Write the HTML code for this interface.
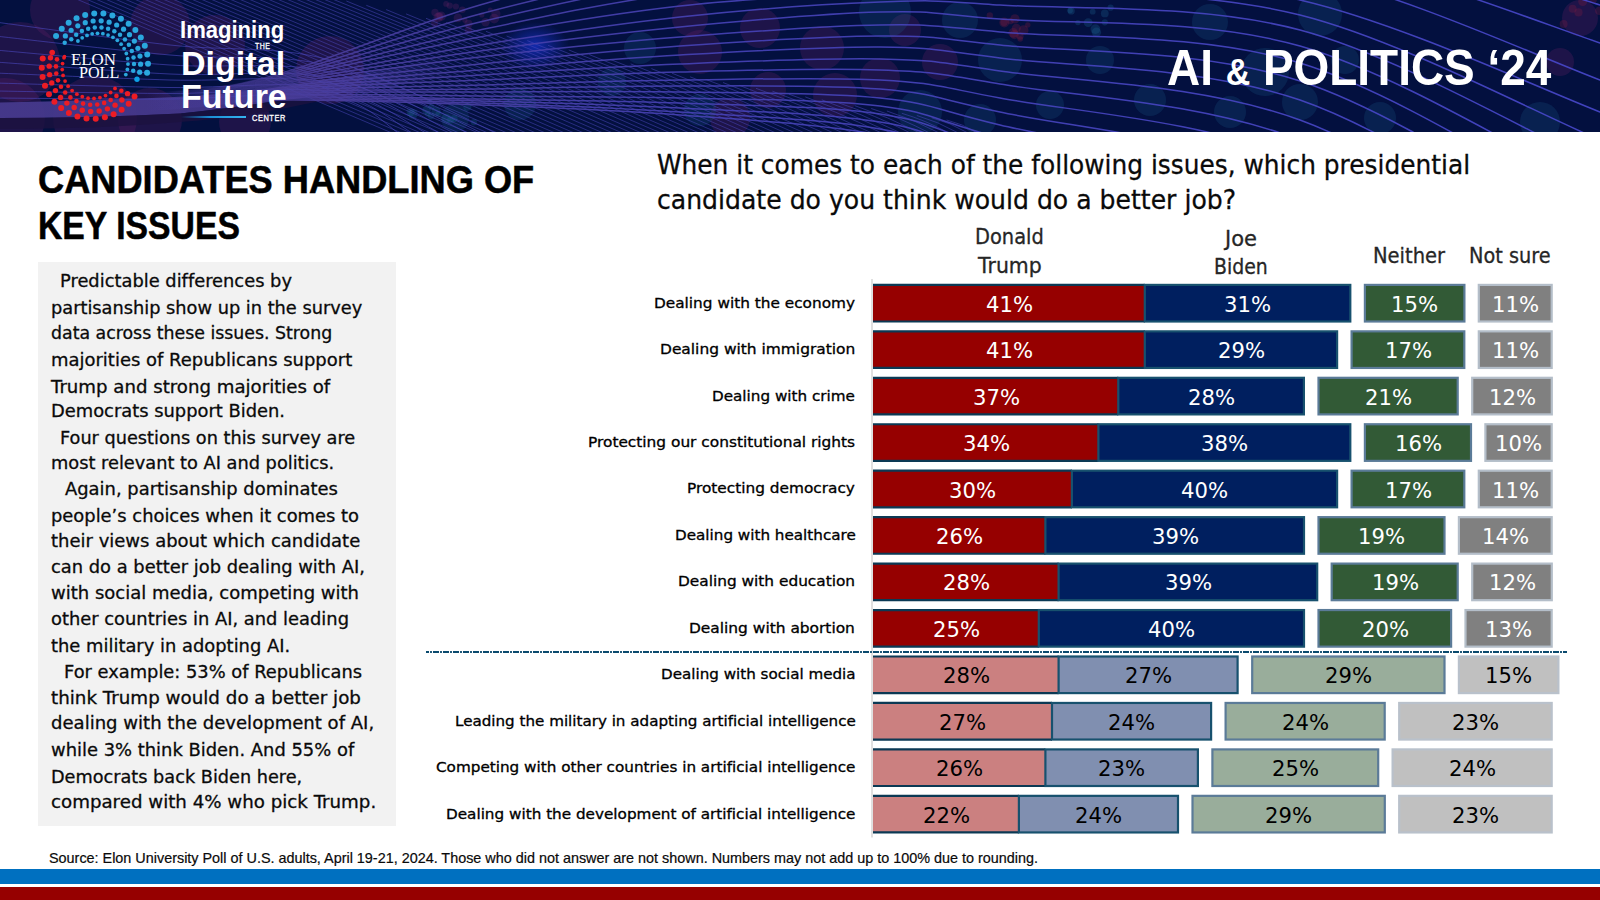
<!DOCTYPE html>
<html lang="en"><head><meta charset="utf-8"><title>AI &amp; Politics ‘24 – Candidates handling of key issues</title>
<style>
html,body{margin:0;padding:0;background:#fff}
body{width:1600px;height:900px;position:relative;overflow:hidden;font-family:"Liberation Sans","DejaVu Sans",sans-serif}
.t{position:absolute;white-space:pre;line-height:normal;transform-origin:0 0;display:block}
header{position:absolute;left:0;top:0;width:1600px;height:132px;background:#03103f;overflow:hidden}
.hdr-art{position:absolute;left:0;top:0}
.logo{position:absolute;left:30px;top:0}
.rule{position:absolute;left:181px;top:116.4px;width:65px;height:1.8px;background:linear-gradient(90deg,rgba(27,117,188,0) 0%,#1b8fd6 45%,#35b4ef 100%)}
.panel{position:absolute;left:38px;top:262px;width:358px;height:564px;background:#f2f2f2}
.chart{position:absolute;left:0;top:0}
.stripe-b{position:absolute;left:0;top:869px;width:1600px;height:15px;background:#0070c0}
.stripe-r{position:absolute;left:0;top:887px;width:1600px;height:13px;background:#960000}
</style></head><body>
<header>
<svg class="hdr-art" width="1600" height="132" viewBox="0 0 1600 132" aria-hidden="true">
<defs><linearGradient id="rib" gradientUnits="userSpaceOnUse" x1="0" y1="0" x2="460" y2="0"><stop offset="0" stop-color="#46398c" stop-opacity="0.95"/><stop offset="0.62" stop-color="#44388c" stop-opacity="0.9"/><stop offset="1" stop-color="#40389a" stop-opacity="0"/></linearGradient><radialGradient id="glow"><stop offset="0" stop-color="#1530c8" stop-opacity="0.8"/><stop offset="1" stop-color="#1530c8" stop-opacity="0"/></radialGradient><linearGradient id="lg" gradientUnits="userSpaceOnUse" x1="0" y1="0" x2="1600" y2="0"><stop offset="0.09" stop-color="#4a3d9c" stop-opacity="0"/><stop offset="0.2" stop-color="#4a3d9c" stop-opacity="1"/><stop offset="0.45" stop-color="#4642b8"/><stop offset="1" stop-color="#4848cc"/></linearGradient></defs>
<rect width="1600" height="132" fill="#03103f"/>
<circle cx="20" cy="62" r="40" fill="#6d2468" fill-opacity="0.26"/>
<circle cx="95" cy="118" r="42" fill="#6d2468" fill-opacity="0.26"/>
<circle cx="215" cy="45" r="30" fill="#6d2468" fill-opacity="0.26"/>
<circle cx="330" cy="70" r="34" fill="#6d2468" fill-opacity="0.26"/>
<circle cx="245" cy="122" r="26" fill="#6d2468" fill-opacity="0.26"/>
<circle cx="160" cy="25" r="30" fill="#6d2468" fill-opacity="0.26"/>
<circle cx="700" cy="52" r="22" fill="#6d2468" fill-opacity="0.26"/>
<circle cx="760" cy="28" r="20" fill="#6d2468" fill-opacity="0.26"/>
<circle cx="822" cy="48" r="22" fill="#6d2468" fill-opacity="0.26"/>
<circle cx="835" cy="95" r="22" fill="#6d2468" fill-opacity="0.26"/>
<circle cx="880" cy="78" r="20" fill="#6d2468" fill-opacity="0.26"/>
<circle cx="768" cy="90" r="18" fill="#6d2468" fill-opacity="0.26"/>
<circle cx="940" cy="62" r="18" fill="#6d2468" fill-opacity="0.26"/>
<circle cx="905" cy="30" r="16" fill="#6d2468" fill-opacity="0.26"/>
<circle cx="690" cy="18" r="18" fill="#6d2468" fill-opacity="0.26"/>
<circle cx="730" cy="118" r="20" fill="#6d2468" fill-opacity="0.26"/>
<circle cx="1580" cy="18" r="18" fill="#6d2468" fill-opacity="0.26"/>
<circle cx="1560" cy="62" r="14" fill="#6d2468" fill-opacity="0.26"/>
<circle cx="5" cy="118" r="40" fill="#6d2468" fill-opacity="0.26"/>
<circle cx="150" cy="120" r="32" fill="#6d2468" fill-opacity="0.26"/>
<circle cx="60" cy="10" r="30" fill="#6d2468" fill-opacity="0.26"/>
<circle cx="885" cy="12" r="26" fill="#1c6796" fill-opacity="0.2"/>
<circle cx="920" cy="112" r="22" fill="#1c6796" fill-opacity="0.2"/>
<circle cx="700" cy="110" r="16" fill="#1c6796" fill-opacity="0.2"/>
<circle cx="640" cy="48" r="16" fill="#1c6796" fill-opacity="0.2"/>
<circle cx="612" cy="82" r="14" fill="#1c6796" fill-opacity="0.2"/>
<circle cx="1320" cy="14" r="22" fill="#1c6796" fill-opacity="0.2"/>
<circle cx="1265" cy="72" r="24" fill="#1c6796" fill-opacity="0.2"/>
<circle cx="1300" cy="102" r="18" fill="#1c6796" fill-opacity="0.2"/>
<circle cx="1230" cy="112" r="16" fill="#1c6796" fill-opacity="0.2"/>
<circle cx="1150" cy="100" r="16" fill="#1c6796" fill-opacity="0.2"/>
<circle cx="1345" cy="60" r="14" fill="#1c6796" fill-opacity="0.2"/>
<circle cx="1210" cy="22" r="18" fill="#1c6796" fill-opacity="0.2"/>
<circle cx="980" cy="120" r="16" fill="#1c6796" fill-opacity="0.2"/>
<circle cx="1000" cy="60" r="22" fill="#1c6796" fill-opacity="0.2"/>
<circle cx="960" cy="20" r="18" fill="#1c6796" fill-opacity="0.2"/>
<circle cx="1380" cy="118" r="16" fill="#1c6796" fill-opacity="0.2"/>
<circle cx="520" cy="104" r="16" fill="#1c6796" fill-opacity="0.2"/>
<circle cx="455" cy="118" r="14" fill="#1c6796" fill-opacity="0.2"/>
<circle cx="1540" cy="122" r="20" fill="#1c6796" fill-opacity="0.2"/>
<circle cx="1100" cy="60" r="14" fill="#1c6796" fill-opacity="0.2"/>
<circle cx="1050" cy="105" r="14" fill="#1c6796" fill-opacity="0.2"/>
<circle cx="438.2" cy="17.4" r="4.8" fill="#6d2468" fill-opacity="0.28"/>
<circle cx="439.3" cy="16.3" r="4.0" fill="#6d2468" fill-opacity="0.28"/>
<circle cx="468.5" cy="23.8" r="4.1" fill="#6d2468" fill-opacity="0.28"/>
<circle cx="462.3" cy="9.7" r="3.3" fill="#6d2468" fill-opacity="0.28"/>
<circle cx="485.5" cy="22.2" r="4.2" fill="#6d2468" fill-opacity="0.28"/>
<circle cx="494.2" cy="18.6" r="4.9" fill="#6d2468" fill-opacity="0.28"/>
<circle cx="446.1" cy="3.9" r="2.9" fill="#6d2468" fill-opacity="0.28"/>
<circle cx="481.8" cy="15.0" r="2.6" fill="#6d2468" fill-opacity="0.28"/>
<circle cx="464.9" cy="20.2" r="2.6" fill="#6d2468" fill-opacity="0.28"/>
<circle cx="441.3" cy="16.2" r="4.6" fill="#6d2468" fill-opacity="0.28"/>
<circle cx="435.0" cy="12.5" r="3.7" fill="#6d2468" fill-opacity="0.28"/>
<circle cx="449.7" cy="5.6" r="3.2" fill="#6d2468" fill-opacity="0.28"/>
<circle cx="495.9" cy="13.7" r="4.6" fill="#6d2468" fill-opacity="0.28"/>
<circle cx="455.9" cy="6.5" r="3.1" fill="#6d2468" fill-opacity="0.28"/>
<circle cx="458.0" cy="17.9" r="4.4" fill="#6d2468" fill-opacity="0.28"/>
<circle cx="434.6" cy="23.2" r="3.5" fill="#6d2468" fill-opacity="0.28"/>
<circle cx="490.3" cy="9.9" r="2.5" fill="#6d2468" fill-opacity="0.28"/>
<circle cx="468.4" cy="30.1" r="3.7" fill="#6d2468" fill-opacity="0.28"/>
<circle cx="1027.8" cy="24.9" r="2.7" fill="#8a1c40" fill-opacity="0.28"/>
<circle cx="989.8" cy="15.4" r="3.2" fill="#8a1c40" fill-opacity="0.28"/>
<circle cx="1023.6" cy="30.2" r="4.9" fill="#8a1c40" fill-opacity="0.28"/>
<circle cx="1010.5" cy="21.2" r="3.1" fill="#8a1c40" fill-opacity="0.28"/>
<circle cx="1016.3" cy="28.3" r="4.5" fill="#8a1c40" fill-opacity="0.28"/>
<circle cx="1020.0" cy="36.2" r="3.6" fill="#8a1c40" fill-opacity="0.28"/>
<circle cx="1020.2" cy="39.0" r="2.8" fill="#8a1c40" fill-opacity="0.28"/>
<circle cx="1004.1" cy="22.3" r="3.6" fill="#8a1c40" fill-opacity="0.28"/>
<circle cx="1013.3" cy="32.9" r="4.9" fill="#8a1c40" fill-opacity="0.28"/>
<circle cx="1014.9" cy="18.9" r="4.7" fill="#8a1c40" fill-opacity="0.28"/>
<circle cx="1014.4" cy="34.6" r="4.6" fill="#8a1c40" fill-opacity="0.28"/>
<circle cx="1004.3" cy="22.5" r="5.0" fill="#8a1c40" fill-opacity="0.28"/>
<circle cx="1088.2" cy="22.7" r="4.4" fill="#1c6796" fill-opacity="0.28"/>
<circle cx="1077.9" cy="22.6" r="2.7" fill="#1c6796" fill-opacity="0.28"/>
<circle cx="1104.8" cy="22.3" r="3.1" fill="#1c6796" fill-opacity="0.28"/>
<circle cx="1071.2" cy="10.9" r="3.6" fill="#1c6796" fill-opacity="0.28"/>
<circle cx="1104.8" cy="13.4" r="3.9" fill="#1c6796" fill-opacity="0.28"/>
<circle cx="1092.7" cy="11.7" r="2.9" fill="#1c6796" fill-opacity="0.28"/>
<circle cx="1110.6" cy="7.7" r="3.1" fill="#1c6796" fill-opacity="0.28"/>
<circle cx="1095.4" cy="29.1" r="4.9" fill="#1c6796" fill-opacity="0.28"/>
<circle cx="1096.4" cy="32.3" r="4.7" fill="#1c6796" fill-opacity="0.28"/>
<circle cx="1070.1" cy="10.4" r="2.8" fill="#1c6796" fill-opacity="0.28"/>
<circle cx="473.9" cy="122.2" r="3.1" fill="#1c6796" fill-opacity="0.28"/>
<circle cx="436.1" cy="111.4" r="4.6" fill="#1c6796" fill-opacity="0.28"/>
<circle cx="427.8" cy="113.8" r="2.9" fill="#1c6796" fill-opacity="0.28"/>
<circle cx="438.5" cy="114.0" r="3.1" fill="#1c6796" fill-opacity="0.28"/>
<circle cx="410.6" cy="112.3" r="4.0" fill="#1c6796" fill-opacity="0.28"/>
<circle cx="433.7" cy="134.5" r="3.0" fill="#1c6796" fill-opacity="0.28"/>
<circle cx="454.0" cy="118.7" r="3.6" fill="#1c6796" fill-opacity="0.28"/>
<circle cx="450.5" cy="120.1" r="3.4" fill="#1c6796" fill-opacity="0.28"/>
<circle cx="431.1" cy="115.8" r="3.4" fill="#1c6796" fill-opacity="0.28"/>
<circle cx="467.4" cy="106.8" r="4.1" fill="#1c6796" fill-opacity="0.28"/>
<circle cx="431.5" cy="107.0" r="2.9" fill="#1c6796" fill-opacity="0.28"/>
<circle cx="446.4" cy="118.7" r="4.8" fill="#1c6796" fill-opacity="0.28"/>
<circle cx="429.3" cy="101.4" r="2.6" fill="#1c6796" fill-opacity="0.28"/>
<circle cx="426.5" cy="110.3" r="4.3" fill="#1c6796" fill-opacity="0.28"/>
<circle cx="424.9" cy="134.3" r="2.7" fill="#1c6796" fill-opacity="0.28"/>
<circle cx="413.0" cy="114.0" r="4.8" fill="#1c6796" fill-opacity="0.28"/>
<circle cx="1582.7" cy="1.5" r="4.5" fill="#8a1c40" fill-opacity="0.28"/>
<circle cx="1599.2" cy="10.8" r="4.2" fill="#8a1c40" fill-opacity="0.28"/>
<circle cx="1611.0" cy="5.6" r="3.5" fill="#8a1c40" fill-opacity="0.28"/>
<circle cx="1593.0" cy="-0.4" r="3.9" fill="#8a1c40" fill-opacity="0.28"/>
<circle cx="1572.6" cy="8.8" r="4.0" fill="#8a1c40" fill-opacity="0.28"/>
<circle cx="1578.5" cy="12.4" r="4.1" fill="#8a1c40" fill-opacity="0.28"/>
<circle cx="1617.4" cy="14.3" r="4.3" fill="#8a1c40" fill-opacity="0.28"/>
<circle cx="1563.6" cy="24.1" r="4.0" fill="#8a1c40" fill-opacity="0.28"/>
<ellipse cx="535" cy="46" rx="34" ry="24" fill="url(#glow)"/>
<path d="M0,102.4 C60,101.5 120,99.8 180,96.8 C220,94.5 255,90.5 290,85.5 C320,81 345,78 440,58 L460,74 C400,86 330,95 290,99.5 C250,104.5 215,110 180,113.6 C120,117 60,118 0,118 Z" fill="url(#rib)"/>
<path d="M0,118 C60,118 120,117 180,113.6 C215,110 250,104.5 290,99.5 L320,101 C270,112 225,119 180,122 C120,127 60,129 0,129 Z" fill="#1b1140" fill-opacity="0.8"/>
<path d="M-5.0,98.0 C24.2,98.2 114.2,99.3 170.0,99.0 C225.8,98.7 291.7,90.2 330.0,96.0 C368.3,101.8 388.3,127.7 400.0,134.0" fill="none" stroke="#4a46bc" stroke-opacity="0.7" stroke-width="0.9"/>
<path d="M-5.0,91.0 C24.2,91.4 114.2,93.3 170.0,93.5 C225.8,93.7 289.3,85.2 330.0,92.0 C370.7,98.8 400.0,127.0 414.0,134.0" fill="none" stroke="#4a46bc" stroke-opacity="0.7" stroke-width="0.9"/>
<path d="M-5.0,83.0 C24.2,83.8 114.2,86.7 170.0,87.5 C225.8,88.3 287.0,80.2 330.0,88.0 C373.0,95.8 411.7,126.3 428.0,134.0" fill="none" stroke="#4a46bc" stroke-opacity="0.7" stroke-width="0.9"/>
<path d="M-5.0,73.0 C24.2,74.2 114.2,78.3 170.0,80.0 C225.8,81.7 284.7,74.0 330.0,83.0 C375.3,92.0 423.3,125.5 442.0,134.0" fill="none" stroke="#4a46bc" stroke-opacity="0.7" stroke-width="0.9"/>
<path d="M-5.0,62.0 C24.2,64.0 114.2,71.3 170.0,74.0 C225.8,76.7 282.3,68.0 330.0,78.0 C377.7,88.0 435.0,124.7 456.0,134.0" fill="none" stroke="#4a46bc" stroke-opacity="0.7" stroke-width="0.9"/>
<path d="M-5.0,50.0 C24.2,52.5 114.2,61.3 170.0,65.0 C225.8,68.7 280.0,60.5 330.0,72.0 C380.0,83.5 446.7,123.7 470.0,134.0" fill="none" stroke="#4a46bc" stroke-opacity="0.7" stroke-width="0.9"/>
<path d="M-5.0,36.0 C24.2,39.2 114.2,50.0 170.0,55.0 C225.8,60.0 277.7,52.8 330.0,66.0 C382.3,79.2 458.3,122.7 484.0,134.0" fill="none" stroke="#4a46bc" stroke-opacity="0.7" stroke-width="0.9"/>
<path d="M-5.0,22.0 C24.2,25.8 114.2,38.7 170.0,45.0 C225.8,51.3 275.3,45.2 330.0,60.0 C384.7,74.8 470.0,121.7 498.0,134.0" fill="none" stroke="#4a46bc" stroke-opacity="0.7" stroke-width="0.9"/>
<path d="M-308.4,-161.2 Q41.8,-17.1 392.0,133" fill="none" stroke="#4a46bc" stroke-opacity="0.62" stroke-width="0.85"/>
<path d="M-285.0,-155.4 Q58.3,-14.2 401.6,133" fill="none" stroke="#4a46bc" stroke-opacity="0.62" stroke-width="0.85"/>
<path d="M-261.6,-149.6 Q74.8,-11.3 411.2,133" fill="none" stroke="#4a46bc" stroke-opacity="0.62" stroke-width="0.85"/>
<path d="M-238.2,-143.8 Q91.3,-8.4 420.8,133" fill="none" stroke="#4a46bc" stroke-opacity="0.62" stroke-width="0.85"/>
<path d="M-214.8,-138.0 Q107.8,-5.5 430.4,133" fill="none" stroke="#4a46bc" stroke-opacity="0.62" stroke-width="0.85"/>
<path d="M-191.4,-132.2 Q124.3,-2.6 440.0,133" fill="none" stroke="#4a46bc" stroke-opacity="0.62" stroke-width="0.85"/>
<path d="M-168.0,-126.4 Q140.8,0.3 449.6,133" fill="none" stroke="#4a46bc" stroke-opacity="0.62" stroke-width="0.85"/>
<path d="M-144.5,-120.6 Q157.3,3.2 459.2,133" fill="none" stroke="#4a46bc" stroke-opacity="0.62" stroke-width="0.85"/>
<path d="M-121.1,-114.8 Q173.8,6.1 468.8,133" fill="none" stroke="#4a46bc" stroke-opacity="0.62" stroke-width="0.85"/>
<path d="M-97.7,-109.0 Q190.3,9.0 478.4,133" fill="none" stroke="#4a46bc" stroke-opacity="0.62" stroke-width="0.85"/>
<path d="M-74.3,-103.2 Q206.9,11.9 488.0,133" fill="none" stroke="#4a46bc" stroke-opacity="0.62" stroke-width="0.85"/>
<path d="M-50.9,-97.4 Q223.4,14.8 497.6,133" fill="none" stroke="#4a46bc" stroke-opacity="0.62" stroke-width="0.85"/>
<path d="M-27.5,-91.6 Q239.9,17.7 507.2,133" fill="none" stroke="#4a46bc" stroke-opacity="0.62" stroke-width="0.85"/>
<path d="M-4.0,-85.8 Q256.4,20.6 516.8,133" fill="none" stroke="#4a46bc" stroke-opacity="0.62" stroke-width="0.85"/>
<path d="M19.4,-79.9 Q272.9,23.5 526.4,133" fill="none" stroke="#4a46bc" stroke-opacity="0.62" stroke-width="0.85"/>
<path d="M42.8,-74.1 Q289.4,26.4 536.0,133" fill="none" stroke="#4a46bc" stroke-opacity="0.62" stroke-width="0.85"/>
<path d="M66.2,-68.3 Q305.9,29.3 545.6,133" fill="none" stroke="#4a46bc" stroke-opacity="0.62" stroke-width="0.85"/>
<path d="M89.6,-62.5 Q322.4,32.2 555.2,133" fill="none" stroke="#4a46bc" stroke-opacity="0.62" stroke-width="0.85"/>
<path d="M113.0,-56.7 Q338.9,35.1 564.8,133" fill="none" stroke="#4a46bc" stroke-opacity="0.62" stroke-width="0.85"/>
<path d="M136.5,-50.9 Q355.4,38.0 574.4,133" fill="none" stroke="#4a46bc" stroke-opacity="0.62" stroke-width="0.85"/>
<path d="M159.9,-45.1 Q371.9,40.9 584.0,133" fill="none" stroke="#4a46bc" stroke-opacity="0.62" stroke-width="0.85"/>
<path d="M183.3,-39.3 Q388.4,43.8 593.6,133" fill="none" stroke="#4a46bc" stroke-opacity="0.62" stroke-width="0.85"/>
<path d="M206.7,-33.5 Q405.0,46.7 603.2,133" fill="none" stroke="#4a46bc" stroke-opacity="0.62" stroke-width="0.85"/>
<path d="M230.1,-27.7 Q421.5,49.6 612.8,133" fill="none" stroke="#4a46bc" stroke-opacity="0.62" stroke-width="0.85"/>
<path d="M253.5,-21.9 Q438.0,52.5 622.4,133" fill="none" stroke="#4a46bc" stroke-opacity="0.62" stroke-width="0.85"/>
<path d="M277.0,-16.1 Q454.5,55.4 632.0,133" fill="none" stroke="#4a46bc" stroke-opacity="0.62" stroke-width="0.85"/>
<path d="M300.4,-10.3 Q471.0,58.3 641.6,133" fill="none" stroke="#4a46bc" stroke-opacity="0.62" stroke-width="0.85"/>
<path d="M323.8,-4.5 Q487.5,61.2 651.2,133" fill="none" stroke="#4a46bc" stroke-opacity="0.62" stroke-width="0.85"/>
<path d="M346.4,1.0 Q503.6,64.0 660.8,133" fill="none" stroke="#4a46bc" stroke-opacity="0.62" stroke-width="0.85"/>
<path d="M366.3,5.3 Q518.4,66.1 670.4,133" fill="none" stroke="#4a46bc" stroke-opacity="0.62" stroke-width="0.85"/>
<path d="M386.2,9.6 Q533.1,68.3 680.0,133" fill="none" stroke="#4a46bc" stroke-opacity="0.62" stroke-width="0.85"/>
<path d="M406.1,13.9 Q547.9,70.5 689.6,133" fill="none" stroke="#4a46bc" stroke-opacity="0.62" stroke-width="0.85"/>
<path d="M426.0,18.3 Q562.6,72.6 699.2,133" fill="none" stroke="#4a46bc" stroke-opacity="0.62" stroke-width="0.85"/>
<path d="M445.9,22.6 Q577.4,74.8 708.8,133" fill="none" stroke="#4a46bc" stroke-opacity="0.62" stroke-width="0.85"/>
<path d="M465.8,26.9 Q592.1,77.0 718.4,133" fill="none" stroke="#4a46bc" stroke-opacity="0.62" stroke-width="0.85"/>
<path d="M485.9,31.3 Q607.0,79.2 728.0,133" fill="none" stroke="#4a46bc" stroke-opacity="0.62" stroke-width="0.85"/>
<path d="M506.6,36.0 Q622.1,81.5 737.6,133" fill="none" stroke="#4a46bc" stroke-opacity="0.62" stroke-width="0.85"/>
<path d="M527.3,40.6 Q637.3,83.8 747.2,133" fill="none" stroke="#4a46bc" stroke-opacity="0.62" stroke-width="0.85"/>
<path d="M548.0,45.3 Q652.4,86.1 756.8,133" fill="none" stroke="#4a46bc" stroke-opacity="0.62" stroke-width="0.85"/>
<path d="M568.7,49.9 Q667.5,88.5 766.4,133" fill="none" stroke="#4a46bc" stroke-opacity="0.62" stroke-width="0.85"/>
<path d="M589.3,54.6 Q682.7,90.8 776.0,133" fill="none" stroke="#4a46bc" stroke-opacity="0.62" stroke-width="0.85"/>
<path d="M610.0,59.3 Q697.8,93.1 785.6,133" fill="none" stroke="#4a46bc" stroke-opacity="0.62" stroke-width="0.85"/>
<path d="M630.7,63.9 Q712.9,95.5 795.2,133" fill="none" stroke="#4a46bc" stroke-opacity="0.62" stroke-width="0.85"/>
<path d="M651.4,68.6 Q728.1,97.8 804.8,133" fill="none" stroke="#4a46bc" stroke-opacity="0.62" stroke-width="0.85"/>
<path d="M672.0,73.2 Q743.2,100.1 814.4,133" fill="none" stroke="#4a46bc" stroke-opacity="0.62" stroke-width="0.85"/>
<path d="M690.1,76.8 Q757.1,101.9 824.0,133" fill="none" stroke="#4a46bc" stroke-opacity="0.62" stroke-width="0.85"/>
<path d="M706.6,79.7 Q770.1,103.3 833.6,133" fill="none" stroke="#4a46bc" stroke-opacity="0.62" stroke-width="0.85"/>
<path d="M723.0,82.5 Q783.1,104.8 843.2,133" fill="none" stroke="#4a46bc" stroke-opacity="0.62" stroke-width="0.85"/>
<path d="M739.5,85.4 Q796.1,106.2 852.8,133" fill="none" stroke="#4a46bc" stroke-opacity="0.62" stroke-width="0.85"/>
<path d="M756.0,88.3 Q809.2,107.6 862.4,133" fill="none" stroke="#4a46bc" stroke-opacity="0.62" stroke-width="0.85"/>
<path d="M772.4,91.2 Q822.2,109.1 872.0,133" fill="none" stroke="#4a46bc" stroke-opacity="0.62" stroke-width="0.85"/>
<path d="M788.9,94.1 Q835.2,110.5 881.6,133" fill="none" stroke="#4a46bc" stroke-opacity="0.62" stroke-width="0.85"/>
<path d="M805.3,96.9 Q848.3,112.0 891.2,133" fill="none" stroke="#4a46bc" stroke-opacity="0.62" stroke-width="0.85"/>
<path d="M821.8,99.8 Q861.3,113.4 900.8,133" fill="none" stroke="#4a46bc" stroke-opacity="0.62" stroke-width="0.85"/>
<path d="M838.2,102.7 Q874.3,114.8 910.4,133" fill="none" stroke="#4a46bc" stroke-opacity="0.62" stroke-width="0.85"/>
<path d="M854.7,105.6 Q887.3,116.3 920.0,133" fill="none" stroke="#4a46bc" stroke-opacity="0.62" stroke-width="0.85"/>
<path d="M871.2,108.5 Q900.4,117.7 929.6,133" fill="none" stroke="#4a46bc" stroke-opacity="0.62" stroke-width="0.85"/>
<path d="M886.9,111.0 Q913.1,119.0 939.2,133" fill="none" stroke="#4a46bc" stroke-opacity="0.62" stroke-width="0.85"/>
<path d="M901.8,113.3 Q925.3,120.1 948.8,133" fill="none" stroke="#4a46bc" stroke-opacity="0.62" stroke-width="0.85"/>
<path d="M916.8,115.5 Q937.6,121.3 958.4,133" fill="none" stroke="#4a46bc" stroke-opacity="0.62" stroke-width="0.85"/>
<path d="M931.7,117.8 Q949.9,122.4 968.0,133" fill="none" stroke="#4a46bc" stroke-opacity="0.62" stroke-width="0.85"/>
<path d="M946.6,120.0 Q962.1,123.5 977.6,133" fill="none" stroke="#4a46bc" stroke-opacity="0.62" stroke-width="0.85"/>
<path d="M0.0,99.0 C28.3,97.8 123.3,96.2 170.0,92.0 C216.7,87.8 228.3,88.1 280.0,73.6 C331.7,59.1 413.3,24.3 480.0,5.0 C546.7,-14.3 613.3,-30.2 680.0,-42.0 C746.7,-53.8 826.7,-60.0 880.0,-66.0 C933.3,-72.0 930.0,-76.5 1000.0,-78.0 C1070.0,-79.5 1200.0,-88.8 1300.0,-75.0 C1400.0,-61.2 1533.3,-15.8 1600.0,5.0 C1666.7,25.8 1683.3,42.5 1700.0,50.0" fill="none" stroke="url(#lg)" stroke-opacity="0.9" stroke-width="1.5"/>
<path d="M0.0,100.0 C28.3,98.8 123.3,97.1 170.0,92.9 C216.7,88.7 228.3,88.2 280.0,75.0 C331.7,61.9 413.3,31.5 480.0,14.0 C546.7,-3.5 613.3,-19.0 680.0,-30.0 C746.7,-41.0 826.7,-46.7 880.0,-52.0 C933.3,-57.3 930.0,-62.3 1000.0,-62.0 C1070.0,-61.7 1200.0,-67.5 1300.0,-50.0 C1400.0,-32.5 1533.3,20.0 1600.0,43.0 C1666.7,66.0 1683.3,80.5 1700.0,88.0" fill="none" stroke="url(#lg)" stroke-opacity="0.9" stroke-width="1.5"/>
<path d="M0.0,101.0 C28.3,99.8 123.3,97.9 170.0,93.8 C216.7,89.7 228.3,88.4 280.0,76.4 C331.7,64.4 413.3,37.9 480.0,22.0 C546.7,6.1 613.3,-9.0 680.0,-19.0 C746.7,-29.0 826.7,-33.3 880.0,-38.0 C933.3,-42.7 930.0,-48.7 1000.0,-47.0 C1070.0,-45.3 1200.0,-49.2 1300.0,-28.0 C1400.0,-6.8 1533.3,54.5 1600.0,80.0 C1666.7,105.5 1683.3,117.5 1700.0,125.0" fill="none" stroke="url(#lg)" stroke-opacity="0.9" stroke-width="1.5"/>
<path d="M0.0,102.0 C28.3,100.8 123.3,98.7 170.0,94.7 C216.7,90.7 228.3,88.6 280.0,77.8 C331.7,67.0 413.3,44.1 480.0,30.0 C546.7,15.9 613.3,1.7 680.0,-7.0 C746.7,-15.7 826.7,-18.7 880.0,-22.0 C933.3,-25.3 930.0,-30.7 1000.0,-27.0 C1070.0,-23.3 1200.0,-23.2 1300.0,0.0 C1400.0,23.2 1533.3,85.8 1600.0,112.0 C1666.7,138.2 1683.3,149.5 1700.0,157.0" fill="none" stroke="url(#lg)" stroke-opacity="0.9" stroke-width="1.5"/>
<path d="M0.0,103.0 C28.3,101.8 123.3,99.6 170.0,95.6 C216.7,91.6 228.3,89.0 280.0,79.2 C331.7,69.4 413.3,49.2 480.0,37.0 C546.7,24.8 613.3,13.5 680.0,6.0 C746.7,-1.5 826.7,-5.2 880.0,-8.0 C933.3,-10.8 930.0,-14.8 1000.0,-11.0 C1070.0,-7.2 1200.0,-10.2 1300.0,15.0 C1400.0,40.2 1533.3,111.7 1600.0,140.0 C1666.7,168.3 1683.3,177.5 1700.0,185.0" fill="none" stroke="url(#lg)" stroke-opacity="0.9" stroke-width="1.5"/>
<path d="M0.0,104.0 C28.3,102.8 123.3,100.4 170.0,96.5 C216.7,92.6 228.3,89.2 280.0,80.6 C331.7,72.0 413.3,55.6 480.0,45.0 C546.7,34.4 613.3,24.2 680.0,17.0 C746.7,9.8 826.7,4.0 880.0,2.0 C933.3,0.0 930.0,0.3 1000.0,5.0 C1070.0,9.7 1200.0,3.3 1300.0,30.0 C1400.0,56.7 1533.3,135.0 1600.0,165.0 C1666.7,195.0 1683.3,202.5 1700.0,210.0" fill="none" stroke="url(#lg)" stroke-opacity="0.9" stroke-width="1.5"/>
<path d="M0.0,105.0 C28.3,103.7 123.3,101.2 170.0,97.4 C216.7,93.6 228.3,89.7 280.0,82.0 C331.7,74.3 413.3,60.2 480.0,51.0 C546.7,41.8 613.3,33.5 680.0,27.0 C746.7,20.5 826.7,13.3 880.0,12.0 C933.3,10.7 930.0,13.3 1000.0,19.0 C1070.0,24.7 1200.0,17.5 1300.0,46.0 C1400.0,74.5 1533.3,158.5 1600.0,190.0 C1666.7,221.5 1683.3,227.5 1700.0,235.0" fill="none" stroke="url(#lg)" stroke-opacity="0.9" stroke-width="1.5"/>
<path d="M0.0,106.0 C28.3,104.7 123.3,102.1 170.0,98.3 C216.7,94.5 228.3,90.3 280.0,83.4 C331.7,76.5 413.3,64.7 480.0,57.0 C546.7,49.3 613.3,42.3 680.0,37.0 C746.7,31.7 826.7,25.8 880.0,25.0 C933.3,24.2 930.0,25.7 1000.0,32.0 C1070.0,38.3 1200.0,32.5 1300.0,63.0 C1400.0,93.5 1533.3,182.2 1600.0,215.0 C1666.7,247.8 1683.3,252.5 1700.0,260.0" fill="none" stroke="url(#lg)" stroke-opacity="0.9" stroke-width="1.5"/>
<path d="M0.0,107.0 C28.3,105.7 123.3,102.9 170.0,99.2 C216.7,95.5 228.3,90.7 280.0,84.8 C331.7,78.9 413.3,70.5 480.0,64.0 C546.7,57.5 613.3,50.7 680.0,46.0 C746.7,41.3 826.7,36.2 880.0,36.0 C933.3,35.8 930.0,37.5 1000.0,45.0 C1070.0,52.5 1200.0,48.5 1300.0,81.0 C1400.0,113.5 1533.3,206.0 1600.0,240.0 C1666.7,274.0 1683.3,277.5 1700.0,285.0" fill="none" stroke="url(#lg)" stroke-opacity="0.9" stroke-width="1.5"/>
<path d="M0.0,108.0 C28.3,106.7 123.3,103.7 170.0,100.1 C216.7,96.5 228.3,91.2 280.0,86.2 C331.7,81.2 413.3,75.2 480.0,70.0 C546.7,64.8 613.3,58.8 680.0,55.0 C746.7,51.2 826.7,46.5 880.0,47.0 C933.3,47.5 930.0,49.2 1000.0,58.0 C1070.0,66.8 1200.0,65.5 1300.0,100.0 C1400.0,134.5 1533.3,230.0 1600.0,265.0 C1666.7,300.0 1683.3,302.5 1700.0,310.0" fill="none" stroke="url(#lg)" stroke-opacity="0.9" stroke-width="1.5"/>
<path d="M0.0,109.0 C28.3,107.7 123.3,104.6 170.0,101.0 C216.7,97.4 228.3,91.9 280.0,87.6 C331.7,83.3 413.3,78.9 480.0,75.0 C546.7,71.1 613.3,66.7 680.0,64.0 C746.7,61.3 826.7,57.8 880.0,59.0 C933.3,60.2 930.0,60.8 1000.0,71.0 C1070.0,81.2 1200.0,83.5 1300.0,120.0 C1400.0,156.5 1533.3,254.2 1600.0,290.0 C1666.7,325.8 1683.3,327.5 1700.0,335.0" fill="none" stroke="url(#lg)" stroke-opacity="0.9" stroke-width="1.5"/>
<path d="M0.0,110.0 C28.3,108.7 123.3,105.4 170.0,101.9 C216.7,98.4 228.3,92.7 280.0,89.0 C331.7,85.3 413.3,82.8 480.0,80.0 C546.7,77.2 613.3,73.7 680.0,72.0 C746.7,70.3 826.7,68.0 880.0,70.0 C933.3,72.0 930.0,72.3 1000.0,84.0 C1070.0,95.7 1200.0,101.5 1300.0,140.0 C1400.0,178.5 1533.3,278.3 1600.0,315.0 C1666.7,351.7 1683.3,352.5 1700.0,360.0" fill="none" stroke="url(#lg)" stroke-opacity="0.9" stroke-width="1.5"/>
<path d="M0.0,111.0 C28.3,109.6 123.3,106.2 170.0,102.8 C216.7,99.4 228.3,93.4 280.0,90.4 C331.7,87.4 413.3,86.7 480.0,85.0 C546.7,83.3 613.3,80.8 680.0,80.0 C746.7,79.2 826.7,77.0 880.0,80.0 C933.3,83.0 930.0,84.7 1000.0,98.0 C1070.0,111.3 1200.0,119.7 1300.0,160.0 C1400.0,200.3 1533.3,302.5 1600.0,340.0 C1666.7,377.5 1683.3,377.5 1700.0,385.0" fill="none" stroke="url(#lg)" stroke-opacity="0.9" stroke-width="1.5"/>
<path d="M0.0,112.0 C28.3,110.6 123.3,107.1 170.0,103.7 C216.7,100.3 228.3,94.2 280.0,91.8 C331.7,89.3 413.3,90.0 480.0,89.0 C546.7,88.0 613.3,86.0 680.0,86.0 C746.7,86.0 826.7,84.7 880.0,89.0 C933.3,93.3 930.0,96.8 1000.0,112.0 C1070.0,127.2 1200.0,137.8 1300.0,180.0 C1400.0,222.2 1533.3,326.7 1600.0,365.0 C1666.7,403.3 1683.3,402.5 1700.0,410.0" fill="none" stroke="url(#lg)" stroke-opacity="0.9" stroke-width="1.5"/>
<path d="M0.0,113.0 C28.3,111.6 123.3,107.9 170.0,104.6 C216.7,101.3 228.3,95.3 280.0,93.2 C331.7,91.1 413.3,92.2 480.0,92.0 C546.7,91.8 613.3,91.0 680.0,92.0 C746.7,93.0 826.7,92.5 880.0,98.0 C933.3,103.5 930.0,108.0 1000.0,125.0 C1070.0,142.0 1200.0,155.8 1300.0,200.0 C1400.0,244.2 1533.3,350.8 1600.0,390.0 C1666.7,429.2 1683.3,427.5 1700.0,435.0" fill="none" stroke="url(#lg)" stroke-opacity="0.9" stroke-width="1.5"/>
<path d="M0.0,114.0 C28.3,112.6 123.3,108.7 170.0,105.5 C216.7,102.3 228.3,96.2 280.0,94.6 C331.7,93.0 413.3,95.4 480.0,96.0 C546.7,96.6 613.3,96.3 680.0,98.0 C746.7,99.7 826.7,99.3 880.0,106.0 C933.3,112.7 930.0,119.0 1000.0,138.0 C1070.0,157.0 1200.0,173.8 1300.0,220.0 C1400.0,266.2 1533.3,375.0 1600.0,415.0 C1666.7,455.0 1683.3,452.5 1700.0,460.0" fill="none" stroke="url(#lg)" stroke-opacity="0.9" stroke-width="1.5"/>
<path d="M0.0,115.0 C28.3,113.6 123.3,109.6 170.0,106.4 C216.7,103.2 228.3,97.2 280.0,96.0 C331.7,94.8 413.3,97.8 480.0,99.0 C546.7,100.2 613.3,100.5 680.0,103.0 C746.7,105.5 826.7,106.2 880.0,114.0 C933.3,121.8 930.0,129.0 1000.0,150.0 C1070.0,171.0 1200.0,191.7 1300.0,240.0 C1400.0,288.3 1533.3,399.2 1600.0,440.0 C1666.7,480.8 1683.3,477.5 1700.0,485.0" fill="none" stroke="url(#lg)" stroke-opacity="0.9" stroke-width="1.5"/>
<path d="M0.0,116.0 C28.3,114.5 123.3,110.4 170.0,107.3 C216.7,104.2 228.3,98.4 280.0,97.4 C331.7,96.3 413.3,99.2 480.0,101.0 C546.7,102.8 613.3,104.5 680.0,108.0 C746.7,111.5 826.7,113.2 880.0,122.0 C933.3,130.8 930.0,138.0 1000.0,161.0 C1070.0,184.0 1200.0,209.3 1300.0,260.0 C1400.0,310.7 1533.3,423.3 1600.0,465.0 C1666.7,506.7 1683.3,502.5 1700.0,510.0" fill="none" stroke="url(#lg)" stroke-opacity="0.9" stroke-width="1.5"/>
<path d="M0.0,117.0 C28.3,115.5 123.3,111.2 170.0,108.2 C216.7,105.2 228.3,99.7 280.0,98.8 C331.7,97.9 413.3,100.8 480.0,103.0 C546.7,105.2 613.3,107.7 680.0,112.0 C746.7,116.3 826.7,119.3 880.0,129.0 C933.3,138.7 930.0,144.8 1000.0,170.0 C1070.0,195.2 1200.0,226.7 1300.0,280.0 C1400.0,333.3 1533.3,447.5 1600.0,490.0 C1666.7,532.5 1683.3,527.5 1700.0,535.0" fill="none" stroke="url(#lg)" stroke-opacity="0.9" stroke-width="1.5"/>
<path d="M0.0,118.0 C28.3,116.5 123.3,112.1 170.0,109.1 C216.7,106.1 228.3,100.9 280.0,100.2 C331.7,99.5 413.3,102.5 480.0,105.0 C546.7,107.5 613.3,110.0 680.0,115.0 C746.7,120.0 826.7,124.5 880.0,135.0 C933.3,145.5 930.0,150.5 1000.0,178.0 C1070.0,205.5 1200.0,243.8 1300.0,300.0 C1400.0,356.2 1533.3,471.7 1600.0,515.0 C1666.7,558.3 1683.3,552.5 1700.0,560.0" fill="none" stroke="url(#lg)" stroke-opacity="0.9" stroke-width="1.5"/>
</svg>
<svg class="logo" width="140" height="132" viewBox="30 0 140 132" aria-hidden="true">
<circle cx="56.07" cy="36.07" r="3.0" fill="#2aa7de"/>
<circle cx="61.75" cy="28.86" r="3.0" fill="#2aa7de"/>
<circle cx="68.66" cy="22.81" r="3.0" fill="#2aa7de"/>
<circle cx="76.55" cy="18.13" r="3.0" fill="#2aa7de"/>
<circle cx="85.17" cy="14.97" r="3.0" fill="#2aa7de"/>
<circle cx="94.22" cy="13.44" r="3.0" fill="#2aa7de"/>
<circle cx="103.40" cy="13.59" r="3.0" fill="#2aa7de"/>
<circle cx="112.40" cy="15.42" r="3.0" fill="#2aa7de"/>
<circle cx="120.91" cy="18.86" r="3.0" fill="#2aa7de"/>
<circle cx="128.65" cy="23.79" r="3.0" fill="#2aa7de"/>
<circle cx="135.35" cy="30.06" r="3.0" fill="#2aa7de"/>
<circle cx="140.80" cy="37.45" r="3.0" fill="#2aa7de"/>
<circle cx="144.80" cy="45.71" r="3.0" fill="#2aa7de"/>
<circle cx="147.23" cy="54.56" r="3.0" fill="#2aa7de"/>
<circle cx="148.00" cy="63.71" r="3.0" fill="#2aa7de"/>
<circle cx="147.08" cy="72.84" r="3.0" fill="#2aa7de"/>
<circle cx="65.37" cy="35.92" r="2.6" fill="#2aa7de"/>
<circle cx="71.11" cy="30.26" r="2.6" fill="#2aa7de"/>
<circle cx="77.81" cy="25.79" r="2.6" fill="#2aa7de"/>
<circle cx="85.24" cy="22.66" r="2.6" fill="#2aa7de"/>
<circle cx="93.12" cy="20.98" r="2.6" fill="#2aa7de"/>
<circle cx="101.18" cy="20.82" r="2.6" fill="#2aa7de"/>
<circle cx="109.13" cy="22.18" r="2.6" fill="#2aa7de"/>
<circle cx="116.67" cy="25.01" r="2.6" fill="#2aa7de"/>
<circle cx="123.55" cy="29.21" r="2.6" fill="#2aa7de"/>
<circle cx="129.52" cy="34.64" r="2.6" fill="#2aa7de"/>
<circle cx="134.35" cy="41.09" r="2.6" fill="#2aa7de"/>
<circle cx="137.88" cy="48.33" r="2.6" fill="#2aa7de"/>
<circle cx="139.99" cy="56.11" r="2.6" fill="#2aa7de"/>
<circle cx="140.59" cy="64.15" r="2.6" fill="#2aa7de"/>
<circle cx="139.67" cy="72.16" r="2.6" fill="#2aa7de"/>
<circle cx="71.25" cy="39.21" r="2.25" fill="#2aa7de"/>
<circle cx="76.19" cy="34.66" r="2.25" fill="#2aa7de"/>
<circle cx="81.90" cy="31.10" r="2.25" fill="#2aa7de"/>
<circle cx="88.16" cy="28.67" r="2.25" fill="#2aa7de"/>
<circle cx="94.77" cy="27.44" r="2.25" fill="#2aa7de"/>
<circle cx="101.50" cy="27.47" r="2.25" fill="#2aa7de"/>
<circle cx="108.10" cy="28.74" r="2.25" fill="#2aa7de"/>
<circle cx="114.34" cy="31.22" r="2.25" fill="#2aa7de"/>
<circle cx="120.02" cy="34.82" r="2.25" fill="#2aa7de"/>
<circle cx="124.93" cy="39.41" r="2.25" fill="#2aa7de"/>
<circle cx="128.90" cy="44.84" r="2.25" fill="#2aa7de"/>
<circle cx="131.80" cy="50.90" r="2.25" fill="#2aa7de"/>
<circle cx="133.51" cy="57.40" r="2.25" fill="#2aa7de"/>
<circle cx="133.99" cy="64.11" r="2.25" fill="#2aa7de"/>
<circle cx="133.21" cy="70.78" r="2.25" fill="#2aa7de"/>
<circle cx="77.93" cy="41.01" r="1.9" fill="#2aa7de"/>
<circle cx="82.22" cy="37.78" r="1.9" fill="#2aa7de"/>
<circle cx="87.02" cy="35.38" r="1.9" fill="#2aa7de"/>
<circle cx="92.17" cy="33.87" r="1.9" fill="#2aa7de"/>
<circle cx="97.51" cy="33.30" r="1.9" fill="#2aa7de"/>
<circle cx="102.87" cy="33.70" r="1.9" fill="#2aa7de"/>
<circle cx="108.06" cy="35.04" r="1.9" fill="#2aa7de"/>
<circle cx="112.94" cy="37.28" r="1.9" fill="#2aa7de"/>
<circle cx="117.34" cy="40.36" r="1.9" fill="#2aa7de"/>
<circle cx="121.12" cy="44.18" r="1.9" fill="#2aa7de"/>
<circle cx="124.15" cy="48.60" r="1.9" fill="#2aa7de"/>
<circle cx="126.35" cy="53.50" r="1.9" fill="#2aa7de"/>
<circle cx="127.65" cy="58.71" r="1.9" fill="#2aa7de"/>
<circle cx="127.99" cy="64.07" r="1.9" fill="#2aa7de"/>
<circle cx="127.37" cy="69.40" r="1.9" fill="#2aa7de"/>
<circle cx="125.82" cy="74.54" r="1.9" fill="#2aa7de"/>
<circle cx="64.7" cy="42.8" r="2.2" fill="#2aa7de"/>
<circle cx="137" cy="79.3" r="2.7" fill="#0d9fe6"/>
<circle cx="42.73" cy="58.53" r="3.0" fill="#ec1c24"/>
<circle cx="41.80" cy="67.73" r="3.0" fill="#ec1c24"/>
<circle cx="42.56" cy="76.95" r="3.0" fill="#ec1c24"/>
<circle cx="44.98" cy="85.87" r="3.0" fill="#ec1c24"/>
<circle cx="48.98" cy="94.21" r="3.0" fill="#ec1c24"/>
<circle cx="54.43" cy="101.68" r="3.0" fill="#ec1c24"/>
<circle cx="61.15" cy="108.04" r="3.0" fill="#ec1c24"/>
<circle cx="68.91" cy="113.08" r="3.0" fill="#ec1c24"/>
<circle cx="77.45" cy="116.62" r="3.0" fill="#ec1c24"/>
<circle cx="86.50" cy="118.54" r="3.0" fill="#ec1c24"/>
<circle cx="95.74" cy="118.80" r="3.0" fill="#ec1c24"/>
<circle cx="104.88" cy="117.37" r="3.0" fill="#ec1c24"/>
<circle cx="113.61" cy="114.30" r="3.0" fill="#ec1c24"/>
<circle cx="121.63" cy="109.70" r="3.0" fill="#ec1c24"/>
<circle cx="128.68" cy="103.72" r="3.0" fill="#ec1c24"/>
<circle cx="134.53" cy="96.55" r="3.0" fill="#ec1c24"/>
<circle cx="50.49" cy="57.72" r="2.7" fill="#ec1c24"/>
<circle cx="49.25" cy="66.15" r="2.7" fill="#ec1c24"/>
<circle cx="49.68" cy="74.65" r="2.7" fill="#ec1c24"/>
<circle cx="51.77" cy="82.91" r="2.7" fill="#ec1c24"/>
<circle cx="55.44" cy="90.59" r="2.7" fill="#ec1c24"/>
<circle cx="60.54" cy="97.41" r="2.7" fill="#ec1c24"/>
<circle cx="66.87" cy="103.10" r="2.7" fill="#ec1c24"/>
<circle cx="74.20" cy="107.44" r="2.7" fill="#ec1c24"/>
<circle cx="82.23" cy="110.27" r="2.7" fill="#ec1c24"/>
<circle cx="90.67" cy="111.46" r="2.7" fill="#ec1c24"/>
<circle cx="99.17" cy="110.98" r="2.7" fill="#ec1c24"/>
<circle cx="107.41" cy="108.85" r="2.7" fill="#ec1c24"/>
<circle cx="115.08" cy="105.15" r="2.7" fill="#ec1c24"/>
<circle cx="121.87" cy="100.01" r="2.7" fill="#ec1c24"/>
<circle cx="127.53" cy="93.65" r="2.7" fill="#ec1c24"/>
<circle cx="56.99" cy="59.35" r="2.3" fill="#ec1c24"/>
<circle cx="55.95" cy="66.38" r="2.3" fill="#ec1c24"/>
<circle cx="56.28" cy="73.47" r="2.3" fill="#ec1c24"/>
<circle cx="57.98" cy="80.37" r="2.3" fill="#ec1c24"/>
<circle cx="60.99" cy="86.82" r="2.3" fill="#ec1c24"/>
<circle cx="65.18" cy="92.55" r="2.3" fill="#ec1c24"/>
<circle cx="70.40" cy="97.38" r="2.3" fill="#ec1c24"/>
<circle cx="76.46" cy="101.10" r="2.3" fill="#ec1c24"/>
<circle cx="83.12" cy="103.58" r="2.3" fill="#ec1c24"/>
<circle cx="90.13" cy="104.72" r="2.3" fill="#ec1c24"/>
<circle cx="97.23" cy="104.49" r="2.3" fill="#ec1c24"/>
<circle cx="104.16" cy="102.89" r="2.3" fill="#ec1c24"/>
<circle cx="110.64" cy="99.99" r="2.3" fill="#ec1c24"/>
<circle cx="116.44" cy="95.88" r="2.3" fill="#ec1c24"/>
<circle cx="121.34" cy="90.73" r="2.3" fill="#ec1c24"/>
<circle cx="64.03" cy="57.84" r="1.9" fill="#ec1c24"/>
<circle cx="62.55" cy="63.61" r="1.9" fill="#ec1c24"/>
<circle cx="62.23" cy="69.56" r="1.9" fill="#ec1c24"/>
<circle cx="63.08" cy="75.46" r="1.9" fill="#ec1c24"/>
<circle cx="65.07" cy="81.07" r="1.9" fill="#ec1c24"/>
<circle cx="68.12" cy="86.19" r="1.9" fill="#ec1c24"/>
<circle cx="72.11" cy="90.62" r="1.9" fill="#ec1c24"/>
<circle cx="76.89" cy="94.17" r="1.9" fill="#ec1c24"/>
<circle cx="82.28" cy="96.72" r="1.9" fill="#ec1c24"/>
<circle cx="88.06" cy="98.17" r="1.9" fill="#ec1c24"/>
<circle cx="94.01" cy="98.46" r="1.9" fill="#ec1c24"/>
<circle cx="99.90" cy="97.58" r="1.9" fill="#ec1c24"/>
<circle cx="105.51" cy="95.56" r="1.9" fill="#ec1c24"/>
<circle cx="110.61" cy="92.49" r="1.9" fill="#ec1c24"/>
<circle cx="115.02" cy="88.47" r="1.9" fill="#ec1c24"/>
<circle cx="52.2" cy="52.5" r="2.8" fill="#ec1c24"/>
<circle cx="64.5" cy="56.5" r="1.8" fill="#ec1c24"/>
</svg>
<span class="t" style="left:180.2px;top:15.8px;font-family:'Liberation Sans','DejaVu Sans',sans-serif;font-weight:700;font-size:23.9px;letter-spacing:0px;color:#fff;transform:scale(0.9235,1.0);">Imagining</span>
<span class="t" style="left:255.3px;top:42.3px;font-family:'Liberation Sans','DejaVu Sans',sans-serif;font-weight:400;font-size:8.2px;letter-spacing:0.6px;color:#fff;-webkit-text-stroke:0.3px #fff;transform:scale(0.8529,1.0);">THE</span>
<span class="t" style="left:180.9px;top:44.8px;font-family:'Liberation Sans','DejaVu Sans',sans-serif;font-weight:700;font-size:33.3px;letter-spacing:0px;color:#fff;transform:scale(1.0231,1.0);">Digital</span>
<span class="t" style="left:180.9px;top:78.1px;font-family:'Liberation Sans','DejaVu Sans',sans-serif;font-weight:700;font-size:33.3px;letter-spacing:0px;color:#fff;transform:scale(1.0213,1.0);">Future</span>
<span class="t" style="left:252.0px;top:113.7px;font-family:'Liberation Sans','DejaVu Sans',sans-serif;font-weight:400;font-size:8.2px;letter-spacing:0.6px;color:#fff;-webkit-text-stroke:0.3px #fff;transform:scale(0.9082,1.0);">CENTER</span>
<span class="t" style="left:71.0px;top:50.7px;font-family:'Liberation Serif','DejaVu Serif',serif;font-weight:400;font-size:15.8px;letter-spacing:0px;color:#fff;transform:scale(1.0682,1.0);">ELON</span>
<span class="t" style="left:78.6px;top:63.9px;font-family:'Liberation Serif','DejaVu Serif',serif;font-weight:400;font-size:15.8px;letter-spacing:0px;color:#fff;transform:scale(1.0203,1.0);">POLL</span>
<span class="t" style="left:1166.9px;top:39.0px;font-family:'Liberation Sans','DejaVu Sans',sans-serif;font-weight:700;font-size:50.2px;letter-spacing:0px;color:#fff;transform:scale(0.9149,1.0);">AI <span style="font-size:0.74em">&amp;</span> POLITICS ‘24</span>
<div class="rule"></div>
</header>
<main>
<section class="left">
<h1 style="margin:0;font-size:0"><span class="t" style="left:37.5px;top:158.7px;font-family:'Liberation Sans','DejaVu Sans',sans-serif;font-weight:700;font-size:37.9px;letter-spacing:0px;color:#000;-webkit-text-stroke:0.5px #000;transform:scale(0.9556,1.0);">CANDIDATES HANDLING OF</span>
<span class="t" style="left:37.5px;top:204.9px;font-family:'Liberation Sans','DejaVu Sans',sans-serif;font-weight:700;font-size:37.9px;letter-spacing:0px;color:#000;-webkit-text-stroke:0.5px #000;transform:scale(0.8905,1.0);">KEY ISSUES</span></h1>
<div class="panel"></div>
<div class="body">
<span class="t" style="left:60.0px;top:271.3px;font-family:'DejaVu Sans','Liberation Sans',sans-serif;font-weight:400;font-size:17.6px;letter-spacing:0px;-webkit-text-stroke:0.3px currentColor;font-variant-ligatures:none;color:#0a0a0a;transform:scale(1.0141,1.0);">Predictable differences by</span>
<span class="t" style="left:50.8px;top:298.1px;font-family:'DejaVu Sans','Liberation Sans',sans-serif;font-weight:400;font-size:17.6px;letter-spacing:0px;-webkit-text-stroke:0.3px currentColor;font-variant-ligatures:none;color:#0a0a0a;transform:scale(1.0094,1.0);">partisanship show up in the survey</span>
<span class="t" style="left:50.8px;top:323.3px;font-family:'DejaVu Sans','Liberation Sans',sans-serif;font-weight:400;font-size:17.6px;letter-spacing:0px;-webkit-text-stroke:0.3px currentColor;font-variant-ligatures:none;color:#0a0a0a;transform:scale(0.9859,1.0);">data across these issues. Strong</span>
<span class="t" style="left:50.8px;top:350.1px;font-family:'DejaVu Sans','Liberation Sans',sans-serif;font-weight:400;font-size:17.6px;letter-spacing:0px;-webkit-text-stroke:0.3px currentColor;font-variant-ligatures:none;color:#0a0a0a;transform:scale(1.0208,1.0);">majorities of Republicans support</span>
<span class="t" style="left:50.8px;top:376.5px;font-family:'DejaVu Sans','Liberation Sans',sans-serif;font-weight:400;font-size:17.6px;letter-spacing:0px;-webkit-text-stroke:0.3px currentColor;font-variant-ligatures:none;color:#0a0a0a;transform:scale(1.0312,1.0);">Trump and strong majorities of</span>
<span class="t" style="left:50.8px;top:400.5px;font-family:'DejaVu Sans','Liberation Sans',sans-serif;font-weight:400;font-size:17.6px;letter-spacing:0px;-webkit-text-stroke:0.3px currentColor;font-variant-ligatures:none;color:#0a0a0a;transform:scale(1.0153,1.0);">Democrats support Biden.</span>
<span class="t" style="left:60.0px;top:428.1px;font-family:'DejaVu Sans','Liberation Sans',sans-serif;font-weight:400;font-size:17.6px;letter-spacing:0px;-webkit-text-stroke:0.3px currentColor;font-variant-ligatures:none;color:#0a0a0a;transform:scale(1.0060,1.0);">Four questions on this survey are</span>
<span class="t" style="left:50.8px;top:452.5px;font-family:'DejaVu Sans','Liberation Sans',sans-serif;font-weight:400;font-size:17.6px;letter-spacing:0px;-webkit-text-stroke:0.3px currentColor;font-variant-ligatures:none;color:#0a0a0a;transform:scale(1.0097,1.0);">most relevant to AI and politics.</span>
<span class="t" style="left:65.2px;top:479.3px;font-family:'DejaVu Sans','Liberation Sans',sans-serif;font-weight:400;font-size:17.6px;letter-spacing:0px;-webkit-text-stroke:0.3px currentColor;font-variant-ligatures:none;color:#0a0a0a;transform:scale(1.0178,1.0);">Again, partisanship dominates</span>
<span class="t" style="left:50.8px;top:506.1px;font-family:'DejaVu Sans','Liberation Sans',sans-serif;font-weight:400;font-size:17.6px;letter-spacing:0px;-webkit-text-stroke:0.3px currentColor;font-variant-ligatures:none;color:#0a0a0a;transform:scale(1.0164,1.0);">people’s choices when it comes to</span>
<span class="t" style="left:50.8px;top:531.3px;font-family:'DejaVu Sans','Liberation Sans',sans-serif;font-weight:400;font-size:17.6px;letter-spacing:0px;-webkit-text-stroke:0.3px currentColor;font-variant-ligatures:none;color:#0a0a0a;transform:scale(1.0225,1.0);">their views about which candidate</span>
<span class="t" style="left:50.8px;top:557.3px;font-family:'DejaVu Sans','Liberation Sans',sans-serif;font-weight:400;font-size:17.6px;letter-spacing:0px;-webkit-text-stroke:0.3px currentColor;font-variant-ligatures:none;color:#0a0a0a;transform:scale(1.0157,1.0);">can do a better job dealing with AI,</span>
<span class="t" style="left:50.8px;top:582.5px;font-family:'DejaVu Sans','Liberation Sans',sans-serif;font-weight:400;font-size:17.6px;letter-spacing:0px;-webkit-text-stroke:0.3px currentColor;font-variant-ligatures:none;color:#0a0a0a;transform:scale(1.0224,1.0);">with social media, competing with</span>
<span class="t" style="left:50.8px;top:609.3px;font-family:'DejaVu Sans','Liberation Sans',sans-serif;font-weight:400;font-size:17.6px;letter-spacing:0px;-webkit-text-stroke:0.3px currentColor;font-variant-ligatures:none;color:#0a0a0a;transform:scale(1.0156,1.0);">other countries in AI, and leading</span>
<span class="t" style="left:50.8px;top:636.1px;font-family:'DejaVu Sans','Liberation Sans',sans-serif;font-weight:400;font-size:17.6px;letter-spacing:0px;-webkit-text-stroke:0.3px currentColor;font-variant-ligatures:none;color:#0a0a0a;transform:scale(1.0169,1.0);">the military in adopting AI.</span>
<span class="t" style="left:64.0px;top:662.1px;font-family:'DejaVu Sans','Liberation Sans',sans-serif;font-weight:400;font-size:17.6px;letter-spacing:0px;-webkit-text-stroke:0.3px currentColor;font-variant-ligatures:none;color:#0a0a0a;transform:scale(1.0140,1.0);">For example: 53% of Republicans</span>
<span class="t" style="left:50.8px;top:688.1px;font-family:'DejaVu Sans','Liberation Sans',sans-serif;font-weight:400;font-size:17.6px;letter-spacing:0px;-webkit-text-stroke:0.3px currentColor;font-variant-ligatures:none;color:#0a0a0a;transform:scale(1.0387,1.0);">think Trump would do a better job</span>
<span class="t" style="left:50.8px;top:713.3px;font-family:'DejaVu Sans','Liberation Sans',sans-serif;font-weight:400;font-size:17.6px;letter-spacing:0px;-webkit-text-stroke:0.3px currentColor;font-variant-ligatures:none;color:#0a0a0a;transform:scale(1.0264,1.0);">dealing with the development of AI,</span>
<span class="t" style="left:50.8px;top:740.1px;font-family:'DejaVu Sans','Liberation Sans',sans-serif;font-weight:400;font-size:17.6px;letter-spacing:0px;-webkit-text-stroke:0.3px currentColor;font-variant-ligatures:none;color:#0a0a0a;transform:scale(1.0174,1.0);">while 3% think Biden. And 55% of</span>
<span class="t" style="left:50.8px;top:767.3px;font-family:'DejaVu Sans','Liberation Sans',sans-serif;font-weight:400;font-size:17.6px;letter-spacing:0px;-webkit-text-stroke:0.3px currentColor;font-variant-ligatures:none;color:#0a0a0a;transform:scale(1.0049,1.0);">Democrats back Biden here,</span>
<span class="t" style="left:50.8px;top:792.1px;font-family:'DejaVu Sans','Liberation Sans',sans-serif;font-weight:400;font-size:17.6px;letter-spacing:0px;-webkit-text-stroke:0.3px currentColor;font-variant-ligatures:none;color:#0a0a0a;transform:scale(1.0349,1.0);">compared with 4% who pick Trump.</span>
</div>
</section>
<section class="right">
<h2 style="margin:0;font-size:0"><span class="t" style="left:657.0px;top:149.0px;font-family:'DejaVu Sans','Liberation Sans',sans-serif;font-weight:400;font-size:26.4px;letter-spacing:0px;-webkit-text-stroke:0.3px currentColor;font-variant-ligatures:none;color:#0a0a0a;transform:scale(0.9418,1.0);">When it comes to each of the following issues, which presidential</span>
<span class="t" style="left:657.0px;top:183.8px;font-family:'DejaVu Sans','Liberation Sans',sans-serif;font-weight:400;font-size:26.4px;letter-spacing:0px;-webkit-text-stroke:0.3px currentColor;font-variant-ligatures:none;color:#0a0a0a;transform:scale(0.9515,1.0);">candidate do you think would do a better job?</span></h2>
<div class="heads"><span class="t" style="left:975.2px;top:225.1px;font-family:'DejaVu Sans','Liberation Sans',sans-serif;font-weight:400;font-size:20.6px;letter-spacing:0px;-webkit-text-stroke:0.3px currentColor;font-variant-ligatures:none;color:#262626;transform:scale(0.9433,1.0);">Donald</span>
<span class="t" style="left:978.0px;top:254.1px;font-family:'DejaVu Sans','Liberation Sans',sans-serif;font-weight:400;font-size:20.6px;letter-spacing:0px;-webkit-text-stroke:0.3px currentColor;font-variant-ligatures:none;color:#262626;transform:scale(0.9935,1.0);">Trump</span>
<span class="t" style="left:1225.0px;top:226.5px;font-family:'DejaVu Sans','Liberation Sans',sans-serif;font-weight:400;font-size:20.6px;letter-spacing:0px;-webkit-text-stroke:0.3px currentColor;font-variant-ligatures:none;color:#262626;transform:scale(1.0209,1.0);">Joe</span>
<span class="t" style="left:1214.0px;top:255.1px;font-family:'DejaVu Sans','Liberation Sans',sans-serif;font-weight:400;font-size:20.6px;letter-spacing:0px;-webkit-text-stroke:0.3px currentColor;font-variant-ligatures:none;color:#262626;transform:scale(0.9172,1.0);">Biden</span>
<span class="t" style="left:1373.2px;top:243.8px;font-family:'DejaVu Sans','Liberation Sans',sans-serif;font-weight:400;font-size:20.6px;letter-spacing:0px;-webkit-text-stroke:0.3px currentColor;font-variant-ligatures:none;color:#262626;transform:scale(0.9479,1.0);">Neither</span>
<span class="t" style="left:1469.3px;top:243.8px;font-family:'DejaVu Sans','Liberation Sans',sans-serif;font-weight:400;font-size:20.6px;letter-spacing:0px;-webkit-text-stroke:0.3px currentColor;font-variant-ligatures:none;color:#262626;transform:scale(0.9369,1.0);">Not sure</span></div>
<svg class="chart" width="1600" height="900" viewBox="0 0 1600 900">
<line x1="872" y1="279" x2="872" y2="837.5" stroke="#d9d9d9" stroke-width="1.6"/>
<rect x="873.0" y="284.90" width="271.8" height="36.60" fill="#960000"/>
<path d="M873.0,284.90 H1144.8 M873.0,321.50 H1144.8" stroke="#0b3954" stroke-width="2.2" fill="none"/>
<rect x="1144.8" y="284.90" width="205.5" height="36.60" fill="#001f5f" stroke="#17516e" stroke-width="2.2"/>
<rect x="1364.9" y="284.90" width="99.5" height="36.60" fill="#325a36" stroke="#5b7b98" stroke-width="2.2"/>
<rect x="1478.8" y="284.90" width="72.9" height="36.60" fill="#808080" stroke="#b4bec9" stroke-width="2.2"/>
<rect x="873.0" y="331.35" width="271.8" height="36.60" fill="#960000"/>
<path d="M873.0,331.35 H1144.8 M873.0,367.95 H1144.8" stroke="#0b3954" stroke-width="2.2" fill="none"/>
<rect x="1144.8" y="331.35" width="192.3" height="36.60" fill="#001f5f" stroke="#17516e" stroke-width="2.2"/>
<rect x="1351.6" y="331.35" width="112.7" height="36.60" fill="#325a36" stroke="#5b7b98" stroke-width="2.2"/>
<rect x="1478.8" y="331.35" width="72.9" height="36.60" fill="#808080" stroke="#b4bec9" stroke-width="2.2"/>
<rect x="873.0" y="377.80" width="245.3" height="36.60" fill="#960000"/>
<path d="M873.0,377.80 H1118.3 M873.0,414.40 H1118.3" stroke="#0b3954" stroke-width="2.2" fill="none"/>
<rect x="1118.3" y="377.80" width="185.6" height="36.60" fill="#001f5f" stroke="#17516e" stroke-width="2.2"/>
<rect x="1318.5" y="377.80" width="139.2" height="36.60" fill="#325a36" stroke="#5b7b98" stroke-width="2.2"/>
<rect x="1472.2" y="377.80" width="79.6" height="36.60" fill="#808080" stroke="#b4bec9" stroke-width="2.2"/>
<rect x="873.0" y="424.25" width="225.4" height="36.60" fill="#960000"/>
<path d="M873.0,424.25 H1098.4 M873.0,460.85 H1098.4" stroke="#0b3954" stroke-width="2.2" fill="none"/>
<rect x="1098.4" y="424.25" width="251.9" height="36.60" fill="#001f5f" stroke="#17516e" stroke-width="2.2"/>
<rect x="1364.9" y="424.25" width="106.1" height="36.60" fill="#325a36" stroke="#5b7b98" stroke-width="2.2"/>
<rect x="1485.4" y="424.25" width="66.3" height="36.60" fill="#808080" stroke="#b4bec9" stroke-width="2.2"/>
<rect x="873.0" y="470.70" width="198.9" height="36.60" fill="#960000"/>
<path d="M873.0,470.70 H1071.9 M873.0,507.30 H1071.9" stroke="#0b3954" stroke-width="2.2" fill="none"/>
<rect x="1071.9" y="470.70" width="265.2" height="36.60" fill="#001f5f" stroke="#17516e" stroke-width="2.2"/>
<rect x="1351.6" y="470.70" width="112.7" height="36.60" fill="#325a36" stroke="#5b7b98" stroke-width="2.2"/>
<rect x="1478.8" y="470.70" width="72.9" height="36.60" fill="#808080" stroke="#b4bec9" stroke-width="2.2"/>
<rect x="873.0" y="517.15" width="172.4" height="36.60" fill="#960000"/>
<path d="M873.0,517.15 H1045.4 M873.0,553.75 H1045.4" stroke="#0b3954" stroke-width="2.2" fill="none"/>
<rect x="1045.4" y="517.15" width="258.6" height="36.60" fill="#001f5f" stroke="#17516e" stroke-width="2.2"/>
<rect x="1318.5" y="517.15" width="126.0" height="36.60" fill="#325a36" stroke="#5b7b98" stroke-width="2.2"/>
<rect x="1458.9" y="517.15" width="92.8" height="36.60" fill="#808080" stroke="#b4bec9" stroke-width="2.2"/>
<rect x="873.0" y="563.60" width="185.6" height="36.60" fill="#960000"/>
<path d="M873.0,563.60 H1058.6 M873.0,600.20 H1058.6" stroke="#0b3954" stroke-width="2.2" fill="none"/>
<rect x="1058.6" y="563.60" width="258.6" height="36.60" fill="#001f5f" stroke="#17516e" stroke-width="2.2"/>
<rect x="1331.7" y="563.60" width="126.0" height="36.60" fill="#325a36" stroke="#5b7b98" stroke-width="2.2"/>
<rect x="1472.2" y="563.60" width="79.6" height="36.60" fill="#808080" stroke="#b4bec9" stroke-width="2.2"/>
<rect x="873.0" y="610.05" width="165.8" height="36.60" fill="#960000"/>
<path d="M873.0,610.05 H1038.8 M873.0,646.65 H1038.8" stroke="#0b3954" stroke-width="2.2" fill="none"/>
<rect x="1038.8" y="610.05" width="265.2" height="36.60" fill="#001f5f" stroke="#17516e" stroke-width="2.2"/>
<rect x="1318.5" y="610.05" width="132.6" height="36.60" fill="#325a36" stroke="#5b7b98" stroke-width="2.2"/>
<rect x="1465.5" y="610.05" width="86.2" height="36.60" fill="#808080" stroke="#b4bec9" stroke-width="2.2"/>
<rect x="873.0" y="656.50" width="185.6" height="36.60" fill="#cb8080"/>
<path d="M873.0,656.50 H1058.6 M873.0,693.10 H1058.6" stroke="#0b3954" stroke-width="2.2" fill="none"/>
<rect x="1058.6" y="656.50" width="179.0" height="36.60" fill="#808fb0" stroke="#17516e" stroke-width="2.2"/>
<rect x="1252.2" y="656.50" width="192.3" height="36.60" fill="#99ad9b" stroke="#5b7b98" stroke-width="2.2"/>
<rect x="1458.9" y="656.50" width="99.5" height="36.60" fill="#c0c0c0" stroke="#b9c1cb" stroke-width="2.2"/>
<rect x="873.0" y="702.95" width="179.0" height="36.60" fill="#cb8080"/>
<path d="M873.0,702.95 H1052.0 M873.0,739.55 H1052.0" stroke="#0b3954" stroke-width="2.2" fill="none"/>
<rect x="1052.0" y="702.95" width="159.1" height="36.60" fill="#808fb0" stroke="#17516e" stroke-width="2.2"/>
<rect x="1225.6" y="702.95" width="159.1" height="36.60" fill="#99ad9b" stroke="#5b7b98" stroke-width="2.2"/>
<rect x="1399.2" y="702.95" width="152.5" height="36.60" fill="#c0c0c0" stroke="#b9c1cb" stroke-width="2.2"/>
<rect x="873.0" y="749.40" width="172.4" height="36.60" fill="#cb8080"/>
<path d="M873.0,749.40 H1045.4 M873.0,786.00 H1045.4" stroke="#0b3954" stroke-width="2.2" fill="none"/>
<rect x="1045.4" y="749.40" width="152.5" height="36.60" fill="#808fb0" stroke="#17516e" stroke-width="2.2"/>
<rect x="1212.4" y="749.40" width="165.8" height="36.60" fill="#99ad9b" stroke="#5b7b98" stroke-width="2.2"/>
<rect x="1392.6" y="749.40" width="159.1" height="36.60" fill="#c0c0c0" stroke="#b9c1cb" stroke-width="2.2"/>
<rect x="873.0" y="795.85" width="145.9" height="36.60" fill="#cb8080"/>
<path d="M873.0,795.85 H1018.9 M873.0,832.45 H1018.9" stroke="#0b3954" stroke-width="2.2" fill="none"/>
<rect x="1018.9" y="795.85" width="159.1" height="36.60" fill="#808fb0" stroke="#17516e" stroke-width="2.2"/>
<rect x="1192.5" y="795.85" width="192.3" height="36.60" fill="#99ad9b" stroke="#5b7b98" stroke-width="2.2"/>
<rect x="1399.2" y="795.85" width="152.5" height="36.60" fill="#c0c0c0" stroke="#b9c1cb" stroke-width="2.2"/>
<line x1="426" y1="652" x2="1567" y2="652" stroke="#0a4a6e" stroke-width="2.2" stroke-dasharray="6 1.1 1.8 1.1" stroke-dashoffset="3"/>
</svg>
<div class="labels"><span class="t" style="left:654.3px;top:294.6px;font-family:'DejaVu Sans','Liberation Sans',sans-serif;font-weight:400;font-size:13.8px;letter-spacing:0px;-webkit-text-stroke:0.3px currentColor;font-variant-ligatures:none;color:#000;transform:scale(1.1097,1.0);">Dealing with the economy</span>
<span class="t" style="left:660.0px;top:341.1px;font-family:'DejaVu Sans','Liberation Sans',sans-serif;font-weight:400;font-size:13.8px;letter-spacing:0px;-webkit-text-stroke:0.3px currentColor;font-variant-ligatures:none;color:#000;transform:scale(1.1183,1.0);">Dealing with immigration</span>
<span class="t" style="left:712.4px;top:387.5px;font-family:'DejaVu Sans','Liberation Sans',sans-serif;font-weight:400;font-size:13.8px;letter-spacing:0px;-webkit-text-stroke:0.3px currentColor;font-variant-ligatures:none;color:#000;transform:scale(1.1008,1.0);">Dealing with crime</span>
<span class="t" style="left:588.2px;top:434.0px;font-family:'DejaVu Sans','Liberation Sans',sans-serif;font-weight:400;font-size:13.8px;letter-spacing:0px;-webkit-text-stroke:0.3px currentColor;font-variant-ligatures:none;color:#000;transform:scale(1.1138,1.0);">Protecting our constitutional rights</span>
<span class="t" style="left:687.4px;top:480.4px;font-family:'DejaVu Sans','Liberation Sans',sans-serif;font-weight:400;font-size:13.8px;letter-spacing:0px;-webkit-text-stroke:0.3px currentColor;font-variant-ligatures:none;color:#000;transform:scale(1.1112,1.0);">Protecting democracy</span>
<span class="t" style="left:674.5px;top:526.8px;font-family:'DejaVu Sans','Liberation Sans',sans-serif;font-weight:400;font-size:13.8px;letter-spacing:0px;-webkit-text-stroke:0.3px currentColor;font-variant-ligatures:none;color:#000;transform:scale(1.1000,1.0);">Dealing with healthcare</span>
<span class="t" style="left:678.2px;top:573.3px;font-family:'DejaVu Sans','Liberation Sans',sans-serif;font-weight:400;font-size:13.8px;letter-spacing:0px;-webkit-text-stroke:0.3px currentColor;font-variant-ligatures:none;color:#000;transform:scale(1.1121,1.0);">Dealing with education</span>
<span class="t" style="left:689.4px;top:619.8px;font-family:'DejaVu Sans','Liberation Sans',sans-serif;font-weight:400;font-size:13.8px;letter-spacing:0px;-webkit-text-stroke:0.3px currentColor;font-variant-ligatures:none;color:#000;transform:scale(1.1168,1.0);">Dealing with abortion</span>
<span class="t" style="left:660.7px;top:666.2px;font-family:'DejaVu Sans','Liberation Sans',sans-serif;font-weight:400;font-size:13.8px;letter-spacing:0px;-webkit-text-stroke:0.3px currentColor;font-variant-ligatures:none;color:#000;transform:scale(1.0964,1.0);">Dealing with social media</span>
<span class="t" style="left:454.5px;top:712.6px;font-family:'DejaVu Sans','Liberation Sans',sans-serif;font-weight:400;font-size:13.8px;letter-spacing:0px;-webkit-text-stroke:0.3px currentColor;font-variant-ligatures:none;color:#000;transform:scale(1.0962,1.0);">Leading the military in adapting artificial intelligence</span>
<span class="t" style="left:435.8px;top:759.1px;font-family:'DejaVu Sans','Liberation Sans',sans-serif;font-weight:400;font-size:13.8px;letter-spacing:0px;-webkit-text-stroke:0.3px currentColor;font-variant-ligatures:none;color:#000;transform:scale(1.1029,1.0);">Competing with other countries in artificial intelligence</span>
<span class="t" style="left:445.9px;top:805.5px;font-family:'DejaVu Sans','Liberation Sans',sans-serif;font-weight:400;font-size:13.8px;letter-spacing:0px;-webkit-text-stroke:0.3px currentColor;font-variant-ligatures:none;color:#000;transform:scale(1.1032,1.0);">Dealing with the development of artificial intelligence</span></div>
<div class="pcts"><span class="t" style="left:985.7px;top:291.7px;font-family:'DejaVu Sans','Liberation Sans',sans-serif;font-weight:400;font-size:21.6px;letter-spacing:0px;color:#fff;transform:scale(0.9792,1.0);">41%</span>
<span class="t" style="left:1224.4px;top:291.7px;font-family:'DejaVu Sans','Liberation Sans',sans-serif;font-weight:400;font-size:21.6px;letter-spacing:0px;color:#fff;transform:scale(0.9792,1.0);">31%</span>
<span class="t" style="left:1391.4px;top:291.7px;font-family:'DejaVu Sans','Liberation Sans',sans-serif;font-weight:400;font-size:21.6px;letter-spacing:0px;color:#fff;transform:scale(0.9792,1.0);">15%</span>
<span class="t" style="left:1492.1px;top:291.7px;font-family:'DejaVu Sans','Liberation Sans',sans-serif;font-weight:400;font-size:21.6px;letter-spacing:0px;color:#fff;transform:scale(0.9792,1.0);">11%</span>
<span class="t" style="left:985.7px;top:338.1px;font-family:'DejaVu Sans','Liberation Sans',sans-serif;font-weight:400;font-size:21.6px;letter-spacing:0px;color:#fff;transform:scale(0.9792,1.0);">41%</span>
<span class="t" style="left:1217.8px;top:338.1px;font-family:'DejaVu Sans','Liberation Sans',sans-serif;font-weight:400;font-size:21.6px;letter-spacing:0px;color:#fff;transform:scale(0.9792,1.0);">29%</span>
<span class="t" style="left:1384.8px;top:338.1px;font-family:'DejaVu Sans','Liberation Sans',sans-serif;font-weight:400;font-size:21.6px;letter-spacing:0px;color:#fff;transform:scale(0.9792,1.0);">17%</span>
<span class="t" style="left:1492.1px;top:338.1px;font-family:'DejaVu Sans','Liberation Sans',sans-serif;font-weight:400;font-size:21.6px;letter-spacing:0px;color:#fff;transform:scale(0.9792,1.0);">11%</span>
<span class="t" style="left:972.5px;top:384.6px;font-family:'DejaVu Sans','Liberation Sans',sans-serif;font-weight:400;font-size:21.6px;letter-spacing:0px;color:#fff;transform:scale(0.9792,1.0);">37%</span>
<span class="t" style="left:1187.9px;top:384.6px;font-family:'DejaVu Sans','Liberation Sans',sans-serif;font-weight:400;font-size:21.6px;letter-spacing:0px;color:#fff;transform:scale(0.9792,1.0);">28%</span>
<span class="t" style="left:1364.9px;top:384.6px;font-family:'DejaVu Sans','Liberation Sans',sans-serif;font-weight:400;font-size:21.6px;letter-spacing:0px;color:#fff;transform:scale(0.9792,1.0);">21%</span>
<span class="t" style="left:1488.8px;top:384.6px;font-family:'DejaVu Sans','Liberation Sans',sans-serif;font-weight:400;font-size:21.6px;letter-spacing:0px;color:#fff;transform:scale(0.9792,1.0);">12%</span>
<span class="t" style="left:962.5px;top:431.1px;font-family:'DejaVu Sans','Liberation Sans',sans-serif;font-weight:400;font-size:21.6px;letter-spacing:0px;color:#fff;transform:scale(0.9792,1.0);">34%</span>
<span class="t" style="left:1201.2px;top:431.1px;font-family:'DejaVu Sans','Liberation Sans',sans-serif;font-weight:400;font-size:21.6px;letter-spacing:0px;color:#fff;transform:scale(0.9792,1.0);">38%</span>
<span class="t" style="left:1394.7px;top:431.1px;font-family:'DejaVu Sans','Liberation Sans',sans-serif;font-weight:400;font-size:21.6px;letter-spacing:0px;color:#fff;transform:scale(0.9792,1.0);">16%</span>
<span class="t" style="left:1495.4px;top:431.1px;font-family:'DejaVu Sans','Liberation Sans',sans-serif;font-weight:400;font-size:21.6px;letter-spacing:0px;color:#fff;transform:scale(0.9792,1.0);">10%</span>
<span class="t" style="left:949.2px;top:477.5px;font-family:'DejaVu Sans','Liberation Sans',sans-serif;font-weight:400;font-size:21.6px;letter-spacing:0px;color:#fff;transform:scale(0.9792,1.0);">30%</span>
<span class="t" style="left:1181.3px;top:477.5px;font-family:'DejaVu Sans','Liberation Sans',sans-serif;font-weight:400;font-size:21.6px;letter-spacing:0px;color:#fff;transform:scale(0.9792,1.0);">40%</span>
<span class="t" style="left:1384.8px;top:477.5px;font-family:'DejaVu Sans','Liberation Sans',sans-serif;font-weight:400;font-size:21.6px;letter-spacing:0px;color:#fff;transform:scale(0.9792,1.0);">17%</span>
<span class="t" style="left:1492.1px;top:477.5px;font-family:'DejaVu Sans','Liberation Sans',sans-serif;font-weight:400;font-size:21.6px;letter-spacing:0px;color:#fff;transform:scale(0.9792,1.0);">11%</span>
<span class="t" style="left:936.0px;top:523.9px;font-family:'DejaVu Sans','Liberation Sans',sans-serif;font-weight:400;font-size:21.6px;letter-spacing:0px;color:#fff;transform:scale(0.9792,1.0);">26%</span>
<span class="t" style="left:1151.5px;top:523.9px;font-family:'DejaVu Sans','Liberation Sans',sans-serif;font-weight:400;font-size:21.6px;letter-spacing:0px;color:#fff;transform:scale(0.9792,1.0);">39%</span>
<span class="t" style="left:1358.2px;top:523.9px;font-family:'DejaVu Sans','Liberation Sans',sans-serif;font-weight:400;font-size:21.6px;letter-spacing:0px;color:#fff;transform:scale(0.9792,1.0);">19%</span>
<span class="t" style="left:1482.1px;top:523.9px;font-family:'DejaVu Sans','Liberation Sans',sans-serif;font-weight:400;font-size:21.6px;letter-spacing:0px;color:#fff;transform:scale(0.9792,1.0);">14%</span>
<span class="t" style="left:942.6px;top:570.4px;font-family:'DejaVu Sans','Liberation Sans',sans-serif;font-weight:400;font-size:21.6px;letter-spacing:0px;color:#fff;transform:scale(0.9792,1.0);">28%</span>
<span class="t" style="left:1164.7px;top:570.4px;font-family:'DejaVu Sans','Liberation Sans',sans-serif;font-weight:400;font-size:21.6px;letter-spacing:0px;color:#fff;transform:scale(0.9792,1.0);">39%</span>
<span class="t" style="left:1371.5px;top:570.4px;font-family:'DejaVu Sans','Liberation Sans',sans-serif;font-weight:400;font-size:21.6px;letter-spacing:0px;color:#fff;transform:scale(0.9792,1.0);">19%</span>
<span class="t" style="left:1488.8px;top:570.4px;font-family:'DejaVu Sans','Liberation Sans',sans-serif;font-weight:400;font-size:21.6px;letter-spacing:0px;color:#fff;transform:scale(0.9792,1.0);">12%</span>
<span class="t" style="left:932.7px;top:616.9px;font-family:'DejaVu Sans','Liberation Sans',sans-serif;font-weight:400;font-size:21.6px;letter-spacing:0px;color:#fff;transform:scale(0.9792,1.0);">25%</span>
<span class="t" style="left:1148.1px;top:616.9px;font-family:'DejaVu Sans','Liberation Sans',sans-serif;font-weight:400;font-size:21.6px;letter-spacing:0px;color:#fff;transform:scale(0.9792,1.0);">40%</span>
<span class="t" style="left:1361.5px;top:616.9px;font-family:'DejaVu Sans','Liberation Sans',sans-serif;font-weight:400;font-size:21.6px;letter-spacing:0px;color:#fff;transform:scale(0.9792,1.0);">20%</span>
<span class="t" style="left:1485.4px;top:616.9px;font-family:'DejaVu Sans','Liberation Sans',sans-serif;font-weight:400;font-size:21.6px;letter-spacing:0px;color:#fff;transform:scale(0.9792,1.0);">13%</span>
<span class="t" style="left:942.6px;top:663.3px;font-family:'DejaVu Sans','Liberation Sans',sans-serif;font-weight:400;font-size:21.6px;letter-spacing:0px;color:#000;transform:scale(0.9792,1.0);">28%</span>
<span class="t" style="left:1124.9px;top:663.3px;font-family:'DejaVu Sans','Liberation Sans',sans-serif;font-weight:400;font-size:21.6px;letter-spacing:0px;color:#000;transform:scale(0.9792,1.0);">27%</span>
<span class="t" style="left:1325.1px;top:663.3px;font-family:'DejaVu Sans','Liberation Sans',sans-serif;font-weight:400;font-size:21.6px;letter-spacing:0px;color:#000;transform:scale(0.9792,1.0);">29%</span>
<span class="t" style="left:1485.4px;top:663.3px;font-family:'DejaVu Sans','Liberation Sans',sans-serif;font-weight:400;font-size:21.6px;letter-spacing:0px;color:#000;transform:scale(0.9792,1.0);">15%</span>
<span class="t" style="left:939.3px;top:709.8px;font-family:'DejaVu Sans','Liberation Sans',sans-serif;font-weight:400;font-size:21.6px;letter-spacing:0px;color:#000;transform:scale(0.9792,1.0);">27%</span>
<span class="t" style="left:1108.4px;top:709.8px;font-family:'DejaVu Sans','Liberation Sans',sans-serif;font-weight:400;font-size:21.6px;letter-spacing:0px;color:#000;transform:scale(0.9792,1.0);">24%</span>
<span class="t" style="left:1282.0px;top:709.8px;font-family:'DejaVu Sans','Liberation Sans',sans-serif;font-weight:400;font-size:21.6px;letter-spacing:0px;color:#000;transform:scale(0.9792,1.0);">24%</span>
<span class="t" style="left:1452.3px;top:709.8px;font-family:'DejaVu Sans','Liberation Sans',sans-serif;font-weight:400;font-size:21.6px;letter-spacing:0px;color:#000;transform:scale(0.9792,1.0);">23%</span>
<span class="t" style="left:936.0px;top:756.2px;font-family:'DejaVu Sans','Liberation Sans',sans-serif;font-weight:400;font-size:21.6px;letter-spacing:0px;color:#000;transform:scale(0.9792,1.0);">26%</span>
<span class="t" style="left:1098.4px;top:756.2px;font-family:'DejaVu Sans','Liberation Sans',sans-serif;font-weight:400;font-size:21.6px;letter-spacing:0px;color:#000;transform:scale(0.9792,1.0);">23%</span>
<span class="t" style="left:1272.0px;top:756.2px;font-family:'DejaVu Sans','Liberation Sans',sans-serif;font-weight:400;font-size:21.6px;letter-spacing:0px;color:#000;transform:scale(0.9792,1.0);">25%</span>
<span class="t" style="left:1449.0px;top:756.2px;font-family:'DejaVu Sans','Liberation Sans',sans-serif;font-weight:400;font-size:21.6px;letter-spacing:0px;color:#000;transform:scale(0.9792,1.0);">24%</span>
<span class="t" style="left:922.7px;top:802.6px;font-family:'DejaVu Sans','Liberation Sans',sans-serif;font-weight:400;font-size:21.6px;letter-spacing:0px;color:#000;transform:scale(0.9792,1.0);">22%</span>
<span class="t" style="left:1075.2px;top:802.6px;font-family:'DejaVu Sans','Liberation Sans',sans-serif;font-weight:400;font-size:21.6px;letter-spacing:0px;color:#000;transform:scale(0.9792,1.0);">24%</span>
<span class="t" style="left:1265.4px;top:802.6px;font-family:'DejaVu Sans','Liberation Sans',sans-serif;font-weight:400;font-size:21.6px;letter-spacing:0px;color:#000;transform:scale(0.9792,1.0);">29%</span>
<span class="t" style="left:1452.3px;top:802.6px;font-family:'DejaVu Sans','Liberation Sans',sans-serif;font-weight:400;font-size:21.6px;letter-spacing:0px;color:#000;transform:scale(0.9792,1.0);">23%</span></div>
</section>
</main>
<footer>
<span class="t" style="left:49.0px;top:849.5px;font-family:'Liberation Sans','DejaVu Sans',sans-serif;font-weight:400;font-size:14.4px;letter-spacing:0px;color:#0a0a0a;-webkit-text-stroke:0.2px #0a0a0a;transform:scale(0.9997,1.0);">Source: Elon University Poll of U.S. adults, April 19-21, 2024. Those who did not answer are not shown. Numbers may not add up to 100% due to rounding.</span>
<div class="stripe-b"></div><div class="stripe-r"></div>
</footer>
</body></html>
